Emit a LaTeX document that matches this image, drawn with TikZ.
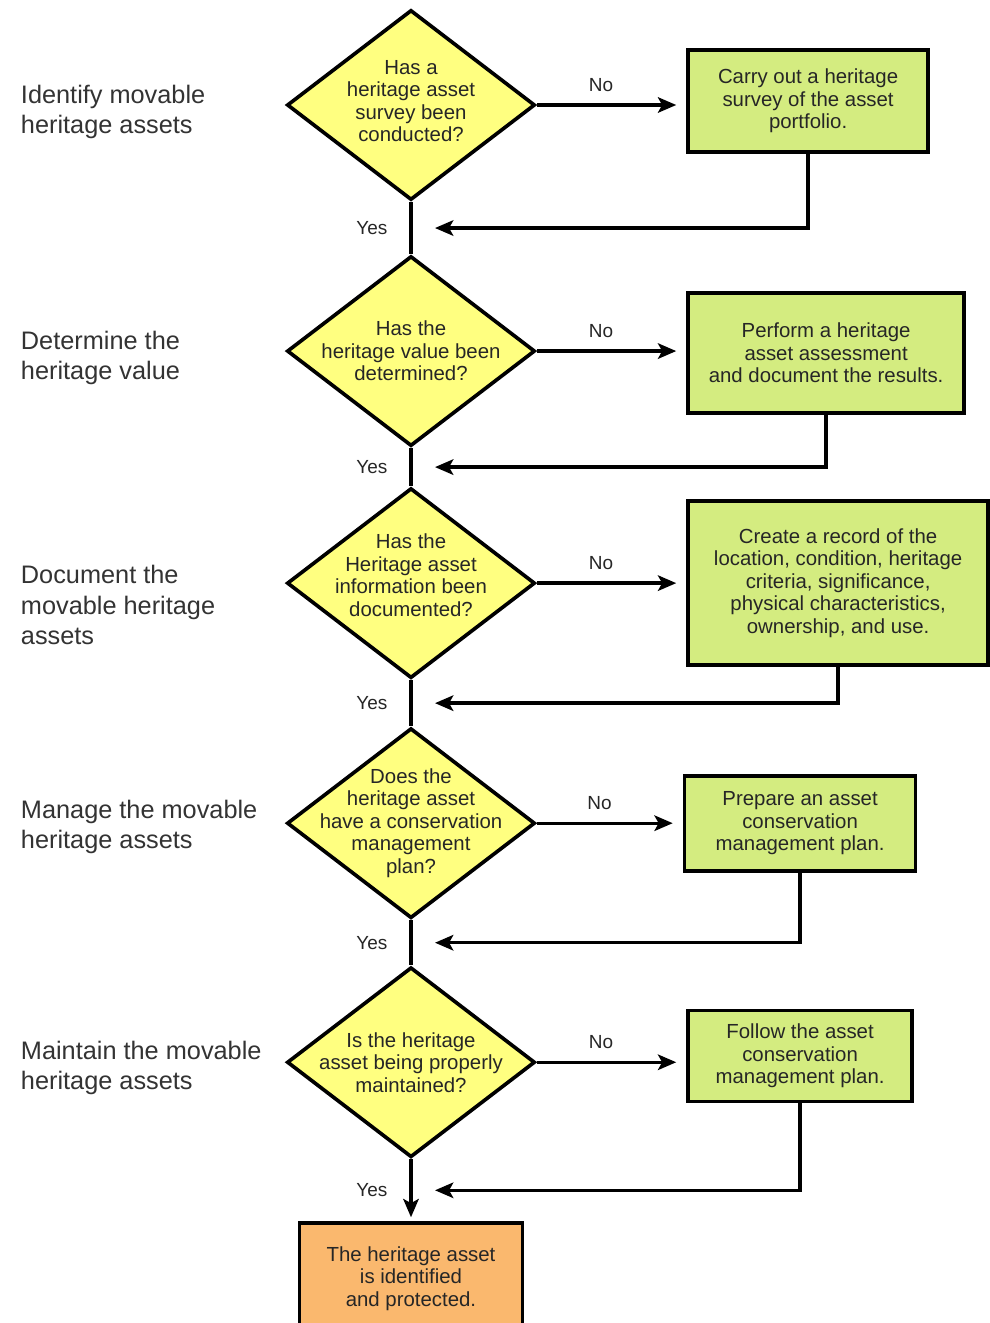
\documentclass[tikz,border=0pt]{standalone}
\usepackage{fontspec}
\setmainfont{Liberation Sans}
\usetikzlibrary{arrows.meta, positioning, shapes.geometric, calc}

\definecolor{qyellow}{RGB}{255,255,128}
\definecolor{stepgreen}{RGB}{212,236,128}
\definecolor{endorange}{RGB}{250,184,110}
\definecolor{stagegray}{RGB}{51,51,51}

\begin{document}
\begin{tikzpicture}[x=0.025cm, y=-0.025cm, >={Stealth[length=13pt, width=11pt, inset=3pt]}, on grid,
        question/.style={diamond, draw, fill=qyellow, line width=2.6pt, minimum width=6.2cm, minimum height=4.75cm, inner sep=0pt},
        qtext/.style={align=center, inner sep=0pt, text=black!85, font=\fontsize{14.5}{16}\selectfont},
        action/.style={rectangle, draw, fill=stepgreen, line width=2.6pt, align=center, inner sep=0pt, text=black!85, font=\fontsize{14.5}{16}\selectfont},
        stage/.style={anchor=west, align=left, text=stagegray, font=\fontsize{18}{21.5}\selectfont},
        answer/.style={inner sep=0pt, text=black!85, font=\fontsize{13.5}{16}\selectfont},
        flow/.style={line width=2.4pt}]

      \useasboundingbox (0,0) rectangle (990,1323);

      % Questions
      \node[question, label={[qtext, yshift=0.1cm]center:Has a\\heritage asset\\survey been\\conducted?}] (survey) at (411,105) {};
      \node[question, below=6.15cm of survey, label={[qtext]center:Has the\\heritage value been\\determined?}] (value) {};
      \node[question, below=5.8cm of value, label={[qtext, yshift=0.2cm]center:Has the\\Heritage asset\\information been\\documented?}] (record) {};
      \node[question, below=6cm of record, label={[qtext]center:Does the\\heritage asset\\have a conservation\\management\\plan?}] (plan) {};
      \node[question, below=5.975cm of plan, label={[qtext]center:Is the heritage\\asset being properly\\maintained?}] (upkeep) {};
      \node[action, fill=endorange, below=5.4cm of upkeep, minimum width=5.575cm, minimum height=2.75cm] (done) {The heritage asset\\is identified\\and protected.};

      % Actions
      \node[action, right=9.925cm of survey, yshift=0.1cm, minimum width=6cm, minimum height=2.55cm] (surveybox) {Carry out a heritage\\survey of the asset\\portfolio.};
      \node[action, right=10.375cm of value, yshift=-0.05cm, minimum width=6.9cm, minimum height=3cm] (valuebox) {Perform a heritage\\asset assessment\\and document the results.};
      \node[action, right=10.675cm of record, minimum width=7.5cm, minimum height=4.1cm] (recordbox) {Create a record of the\\location, condition, heritage\\criteria, significance,\\physical characteristics,\\ownership, and use.};
      \node[action, right=9.725cm of plan, minimum width=5.775cm, minimum height=2.375cm] (planbox) {Prepare an asset\\conservation\\management plan.};
      \node[action, right=9.725cm of upkeep, yshift=0.16cm, minimum width=5.6cm, minimum height=2.275cm] (upkeepbox) {Follow the asset\\conservation\\management plan.};

      % Stages
      \node[stage] (identify) at (16,112) {Identify movable\\heritage assets};
      \node[stage] (determine) at (16,358) {Determine the\\heritage value};
      \node[stage] (document) at (16,605) {Document the\\movable heritage\\assets};
      \node[stage] (manage) at (16,827) {Manage the movable\\heritage assets};
      \node[stage] (maintain) at (16,1068) {Maintain the movable\\heritage assets};

      % Yes path
      \draw[flow] (survey) -- node[answer, left=0.55cm] {Yes} (value);
      \draw[flow] (value) -- node[answer, left=0.55cm] {Yes} (record);
      \draw[flow] (record) -- node[answer, left=0.55cm] {Yes} (plan);
      \draw[flow] (plan) -- node[answer, left=0.55cm] {Yes} (upkeep);
      \draw[flow, ->, shorten >=3pt] (upkeep) -- node[answer, left=0.55cm] {Yes} (done);

      % No path
      \foreach \q/\a in {survey/surveybox, value/valuebox, record/recordbox, plan/planbox, upkeep/upkeepbox}
        \draw[flow, ->, shorten >=0.25cm] (\q.east) -- node[answer, above=0.3cm, pos=0.43] {No} (\q.east -| \a.west);

      % Back to the main line
      \coordinate (join1) at ($(survey.south)!0.5!(value.north)$);
      \coordinate (join2) at ($(value.south)!0.5!(record.north)$);
      \coordinate (join3) at ($(record.south)!0.5!(plan.north)$);
      \coordinate (join4) at ($(plan.south)!0.5!(upkeep.north)$);
      \coordinate (join5) at ($(upkeep.south)!0.5!(done.north)$);
      \draw[flow, ->] (surveybox.south) |- ([xshift=0.6cm]join1);
      \draw[flow, ->] (valuebox.south) |- ([xshift=0.6cm]join2);
      \draw[flow, ->] (recordbox.south) |- ([xshift=0.6cm]join3);
      \draw[flow, ->] (planbox.south) |- ([xshift=0.6cm]join4);
      \draw[flow, ->] (upkeepbox.south) |- ([xshift=0.6cm]join5);

\end{tikzpicture}
\end{document}
